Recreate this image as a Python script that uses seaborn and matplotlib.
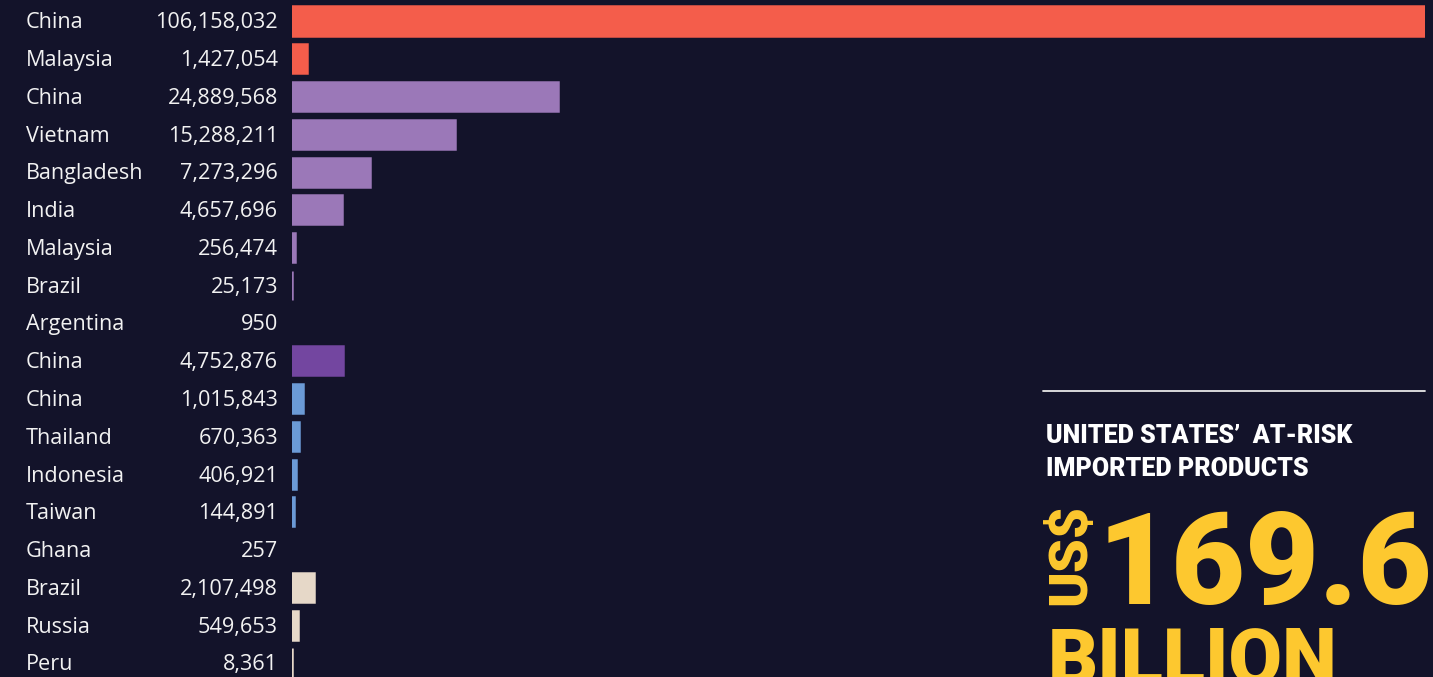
import matplotlib
matplotlib.use("Agg")
import matplotlib.pyplot as plt
import matplotlib.transforms as mtransforms
import seaborn as sns
import pandas as pd

# Exporting countries and import values (US$)
countries = ["China", "Malaysia", "China", "Vietnam", "Bangladesh", "India",
             "Malaysia", "Brazil", "Argentina", "China", "China", "Thailand",
             "Indonesia", "Taiwan", "Ghana", "Brazil", "Russia", "Peru"]
values = [106158032, 1427054, 24889568, 15288211, 7273296, 4657696,
          256474, 25173, 950, 4752876, 1015843, 670363,
          406921, 144891, 257, 2107498, 549653, 8361]
groups = ["A", "A", "B", "B", "B", "B", "B", "B", "B", "C",
          "D", "D", "D", "D", "D", "E", "E", "E"]

headline = "UNITED STATES\u2019  AT-RISK\nIMPORTED PRODUCTS"
total_value = "169.6"
currency = "US$"
unit = "BILLION"

BG = "#13132a"
palette = {"A": "#f45d4b", "B": "#9b78b8", "C": "#7346a0",
           "D": "#6b9ad6", "E": "#e6d8c8"}

df = pd.DataFrame({"row": [str(i) for i in range(len(values))],
                   "value": values, "group": groups, "country": countries})

sns.set_theme(style="white")
plt.rcParams["font.family"] = ["Open Sans", "DejaVu Sans"]

W, H = 1433, 677
fig = plt.figure(figsize=(W / 100, H / 100), dpi=100, facecolor=BG)
ax = fig.add_axes([292 / W, 0, (1425 - 292) / W, 1])
ax.set_facecolor(BG)

sns.barplot(data=df, x="value", y="row", hue="group", palette=palette,
            orient="h", dodge=False, width=0.77, legend=False, ax=ax,
            order=df["row"].tolist(), hue_order=list(palette.keys()),
            saturation=1)

# thin same-colour outline keeps very small (but non-trivial) values visible
for bar in ax.patches:
    h = bar.get_height()
    if h <= 0:
        continue
    idx = int(round(bar.get_y() + h / 2))
    if 0 <= idx < len(values) and values[idx] >= 1000:
        bar.set_edgecolor(bar.get_facecolor())
        bar.set_linewidth(1.8)
    else:
        bar.set_linewidth(0)

spacing = 37.76
top = -21 / spacing
bottom = top + H / spacing
ax.set_ylim(bottom, top)
ax.set_xlim(0, max(values))
ax.axis("off")

trans = mtransforms.blended_transform_factory(fig.transFigure, ax.transData)
for i, (c, v) in enumerate(zip(countries, values)):
    ax.text(26 / W, i + 0.05, c, transform=trans, ha="left", va="center",
            color="#f2f2f2", fontsize=15.6, fontfamily="Open Sans")
    ax.text(278 / W, i + 0.05, f"{v:,}", transform=trans, ha="right",
            va="center", color="#f2f2f2", fontsize=15.6,
            fontfamily="Open Sans")

# summary panel
def px(x, y):
    return x / W, 1 - y / H

fig.add_artist(plt.Line2D([1043 / W, 1425 / W], [1 - 391 / H] * 2,
                          color="#e8e8e8", lw=1.3, transform=fig.transFigure))
x0, y0 = px(1046, 424)
fig.text(x0, y0, headline, ha="left", va="top", color="white",
         fontsize=18, fontweight="heavy", fontfamily="Roboto",
         linespacing=1.45)

YEL = "#fdc82f"
x1, y1 = px(1098, 604)
fig.text(x1, y1, total_value, ha="left", va="baseline", color=YEL,
         fontsize=92, fontweight="black", fontfamily="Roboto")
x2, y2 = px(1096, 554)
fig.text(x2, y2, currency, ha="right", va="center", rotation=90, color=YEL,
         fontsize=39, fontweight="black", fontfamily="Roboto")
x3, y3 = px(1048, 626)
fig.text(x3, y3, unit, ha="left", va="top", color=YEL,
         fontsize=56, fontweight="black", fontfamily="Roboto")

fig.savefig("out.png", dpi=100, facecolor=BG)
